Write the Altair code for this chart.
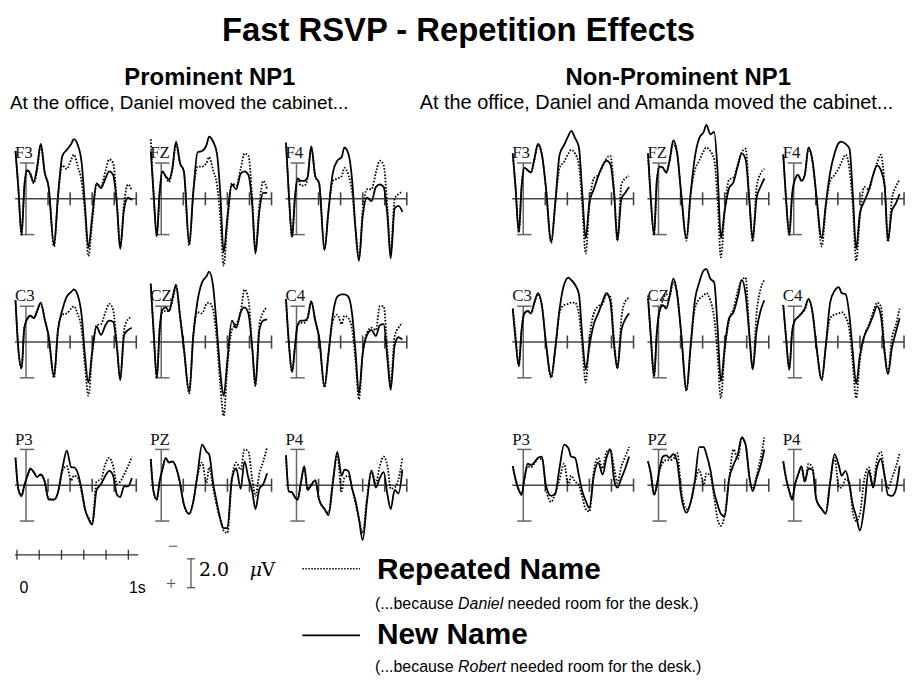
import altair as alt
import pandas as pd

# ---------------- data (µV, negative plotted up) ----------------
T = [-95, -70, -40, -15, 10, 40, 70, 100, 134, 170, 205, 254, 290, 330, 370, 410,
     434, 470, 505, 535, 566, 600, 640, 680, 720, 755, 790, 825, 854, 890, 925, 960]

L_F3_NEW = [-4.0, -1.0, 3.0, -1.0, -2.4, -2.1, -1.4, -2.6, -4.6, -2.2, -1.0, 3.9, -0.2, -3.6, -4.1, -4.6, -5.0, -4.5, -3.0, 0.6, 4.1, 1.5, -1.3, -0.9, -1.7, -2.3, -2.0, 0.6, 4.2, 0.8, -0.1, 0.1]
L_F3_REP = [-4.0, -1.0, 3.0, -1.0, -2.4, -2.0, -1.3, -2.4, -4.5, -2.2, -1.0, 4.0, -0.2, -2.8, -2.5, -3.3, -3.7, -2.7, -1.4, 1.2, 4.8, 2.0, -1.2, -1.1, -2.3, -3.3, -3.0, 0.4, 4.0, 0.3, -1.2, -0.7]
L_FZ_NEW = [-4.0, -0.5, 3.1, -0.5, -2.3, -1.9, -1.6, -2.5, -4.8, -3.0, -2.3, 3.8, -0.5, -3.9, -4.0, -4.5, -5.2, -4.8, -3.8, -0.5, 4.5, 1.5, -1.2, -0.8, -2.1, -2.3, -2.0, 0.5, 4.6, 1.0, -0.5, -0.5]
L_FZ_REP = [-5.0, -0.5, 3.1, -0.5, -2.3, -1.9, -1.4, -2.4, -4.6, -3.0, -2.3, 3.9, -0.5, -2.7, -2.7, -3.0, -3.5, -2.4, -1.2, 1.5, 5.6, 2.0, -1.3, -1.1, -2.5, -3.8, -3.6, 0.0, 4.3, 0.5, -1.5, -0.8]
L_F4_NEW = [-4.7, -0.5, 3.2, 0.0, -1.7, -1.5, -1.5, -1.8, -4.4, -1.9, -1.3, 4.3, 1.0, -2.2, -3.2, -3.5, -4.3, -3.8, -1.5, 2.5, 5.2, 1.5, -0.1, 0.2, -1.0, -1.2, -1.0, 1.5, 5.0, 0.8, 0.6, 1.1]
L_F4_REP = [-4.7, -0.5, 3.2, 0.0, -1.7, -1.1, -1.1, -1.7, -4.3, -1.9, -1.3, 4.2, 1.0, -1.5, -1.7, -1.9, -2.6, -2.0, -0.5, 2.5, 5.0, 1.0, -0.8, -0.8, -2.2, -3.2, -2.8, 0.8, 4.5, 0.0, -0.4, -0.6]
L_C3_NEW = [-3.5, 0.5, 2.2, -1.2, -1.9, -2.2, -2.0, -2.6, -3.3, -1.9, -0.5, 2.9, -1.0, -2.7, -3.8, -4.2, -4.4, -3.9, -2.2, 1.2, 3.4, 0.8, -1.3, -0.6, -1.4, -1.8, -1.7, 0.5, 3.2, -0.6, -1.0, -1.2]
L_C3_REP = [-3.5, 0.5, 2.2, -1.2, -1.9, -2.2, -2.0, -2.5, -3.2, -1.9, -0.5, 3.0, -1.0, -2.3, -2.4, -2.8, -3.0, -2.3, -1.0, 2.0, 4.5, 1.0, -1.4, -1.5, -2.5, -3.2, -2.7, 0.3, 3.0, -1.0, -1.9, -2.1]
L_CZ_NEW = [-4.8, -1.0, 3.0, -1.0, -2.7, -2.9, -2.6, -3.6, -4.8, -2.2, 0.5, 4.2, -0.5, -3.5, -5.0, -5.5, -5.9, -4.7, -1.0, 2.5, 4.5, 1.5, -1.8, -1.2, -2.5, -2.9, -2.4, 0.5, 3.6, -1.0, -1.8, -1.9]
L_CZ_REP = [-4.9, -1.0, 3.0, -1.0, -2.5, -2.6, -2.6, -3.4, -4.6, -2.2, 0.5, 4.3, -0.5, -2.5, -2.4, -3.2, -3.3, -2.7, 0.0, 3.5, 6.2, 2.0, -1.0, -1.5, -2.5, -4.4, -3.6, 0.5, 3.7, -1.5, -2.5, -2.9]
L_C4_NEW = [-3.6, 0.0, 2.5, 0.5, -1.4, -1.8, -1.8, -2.0, -3.4, -1.8, -0.4, 3.7, 1.0, -2.3, -3.8, -4.0, -4.0, -3.8, -2.3, 0.8, 4.3, 1.0, -0.6, -1.0, -0.5, -1.4, -1.5, 1.5, 4.0, 0.3, -0.4, -0.2]
L_C4_REP = [-3.6, 0.0, 2.5, 0.5, -1.4, -1.6, -1.6, -2.0, -3.4, -1.8, -0.4, 3.8, 1.0, -1.8, -2.3, -1.5, -2.2, -2.0, -1.0, 1.5, 4.8, 1.0, -0.8, -1.2, -1.0, -3.0, -3.0, 0.8, 3.5, -0.5, -1.2, -1.6]
L_P3_NEW = [-2.3, 0.3, 0.9, 0.0, -0.7, -1.4, -1.1, -0.7, -0.9, -0.3, 1.2, 1.2, 0.6, -1.4, -2.9, -1.5, -1.5, -1.0, 0.4, 2.0, 2.8, 3.3, 0.4, -0.1, -0.8, -1.2, -0.8, 0.8, 1.0, 0.1, 0.1, -0.6]
L_P3_REP = [-2.3, 0.3, 0.9, 0.0, -0.7, -1.3, -1.1, -0.7, -0.9, -0.3, 1.1, 1.2, 0.6, -1.2, -1.6, -0.4, -0.8, -0.6, 0.6, 2.0, 2.7, 3.2, -0.3, -0.5, -1.8, -2.3, -1.6, -0.1, -0.3, -0.9, -1.6, -2.4]
L_PZ_NEW = [-2.2, 0.5, 1.2, -0.3, -1.3, -2.3, -1.9, -2.0, -1.5, -0.2, 1.6, 2.4, 1.4, -1.0, -3.4, -2.8, -2.6, -0.2, 1.5, 2.8, 3.6, 3.6, -0.5, -1.4, 0.3, -2.0, -0.6, 0.5, 2.0, 0.3, -0.1, -1.0]
L_PZ_REP = [-2.2, 0.5, 1.2, -0.3, -1.3, -2.2, -1.9, -2.0, -1.5, -0.2, 1.6, 2.4, 1.4, -0.8, -1.9, -0.2, -1.5, 0.2, 1.8, 2.9, 3.8, 4.0, -0.5, -1.9, -1.3, -3.0, -2.8, -0.5, 0.9, -1.0, -2.0, -3.2]
L_P4_NEW = [-2.5, 0.5, 0.6, 1.0, 1.2, -0.2, -1.6, 0.4, 0.0, -0.4, 1.2, 2.0, 2.5, -0.2, -2.8, -0.8, -1.3, -1.2, 0.3, 1.3, 2.8, 4.6, 1.3, -1.2, 0.2, -0.6, -1.1, 0.8, 2.0, 0.4, 0.7, -1.3]
L_P4_REP = [-2.5, 0.5, 0.6, 1.0, 1.2, -0.2, -1.5, 0.3, -0.1, -0.4, 1.2, 2.0, 2.3, -0.4, -2.5, 0.5, -0.6, -0.8, 0.3, 1.5, 2.8, 4.0, 1.0, -1.2, -0.2, -1.6, -2.4, -1.6, 0.3, 0.2, -0.5, -2.3]

R_F3_NEW = [-3.8, -1.0, 2.8, -1.0, -2.6, -2.4, -2.2, -3.3, -4.6, -3.7, -1.0, 3.6, 0.4, -3.7, -4.5, -5.3, -5.7, -5.1, -4.3, -0.5, 3.3, 0.3, -0.8, -1.9, -2.8, -3.2, -2.9, -0.3, 3.5, 0.0, -0.5, -1.0]
R_F3_REP = [-3.8, -1.0, 2.8, -1.0, -2.6, -2.4, -2.2, -3.2, -4.5, -3.6, -1.0, 3.7, 0.4, -2.6, -3.1, -3.8, -4.1, -3.8, -2.8, 0.5, 4.6, 0.5, -1.7, -2.0, -2.7, -3.4, -3.6, -0.5, 3.5, -1.2, -1.7, -1.9]
R_FZ_NEW = [-3.8, 0.0, 3.0, -1.5, -2.7, -2.6, -2.2, -3.2, -4.9, -3.8, -0.5, 3.3, -0.3, -3.5, -5.1, -5.6, -6.2, -5.4, -5.6, -2.4, 3.3, 1.0, -0.9, -1.4, -2.8, -3.8, -3.3, 0.3, 3.4, -0.1, -1.0, -1.7]
R_FZ_REP = [-3.8, 0.0, 3.0, -1.5, -2.7, -2.6, -2.2, -3.1, -4.6, -3.7, -0.5, 3.5, -0.3, -2.4, -3.2, -4.0, -4.3, -4.0, -3.3, 0.0, 4.9, 1.0, -1.6, -1.8, -2.9, -3.9, -4.2, 0.3, 3.6, -1.0, -2.1, -2.5]
R_F4_NEW = [-3.7, 0.0, 3.0, -0.3, -1.6, -2.0, -1.5, -2.0, -4.3, -3.2, -0.3, 3.3, 0.5, -2.2, -3.8, -4.7, -4.8, -4.6, -4.2, -0.5, 4.2, 1.2, 0.2, -0.7, -2.0, -2.8, -2.4, -1.0, 3.5, 1.0, 0.4, -0.4]
R_F4_REP = [-3.7, 0.0, 3.0, -0.3, -1.6, -2.0, -1.5, -2.0, -4.2, -3.1, -0.3, 4.0, 0.8, -1.5, -2.0, -2.6, -3.1, -3.7, -2.5, 0.5, 5.2, 1.5, -1.0, -0.8, -2.0, -3.0, -3.7, -1.0, 3.6, 0.0, -1.0, -1.6]
R_C3_NEW = [-2.8, -0.2, 2.0, -1.0, -2.4, -2.6, -2.4, -3.3, -4.1, -3.0, 0.0, 2.9, 0.6, -2.8, -4.8, -5.4, -5.2, -4.8, -4.0, -0.5, 2.3, 0.3, -1.5, -2.4, -3.4, -4.1, -3.4, 0.4, 2.2, -1.0, -1.9, -2.4]
R_C3_REP = [-2.8, -0.7, 2.0, -1.0, -2.4, -2.6, -2.4, -3.2, -4.0, -3.0, 0.0, 3.0, 0.6, -2.5, -3.1, -3.2, -3.3, -3.3, -2.3, 0.3, 3.4, -0.3, -2.4, -3.0, -3.2, -4.0, -3.8, 0.0, 2.2, -2.0, -3.4, -3.7]
R_CZ_NEW = [-3.7, -0.5, 2.9, -0.8, -2.6, -3.1, -2.8, -3.8, -5.3, -4.0, -0.8, 4.0, 0.5, -3.5, -5.0, -6.0, -6.1, -5.3, -5.0, -1.3, 3.3, 0.5, -2.0, -2.5, -3.8, -5.2, -4.0, -0.5, 2.3, -1.0, -2.6, -3.5]
R_CZ_REP = [-3.9, -0.5, 2.9, -0.8, -2.6, -3.5, -4.0, -3.8, -5.0, -3.9, -0.8, 4.1, 0.5, -2.8, -3.6, -3.9, -4.1, -3.5, -2.0, 1.0, 4.7, 0.8, -1.8, -2.8, -4.3, -5.2, -5.4, -0.5, 2.2, -2.5, -4.4, -5.2]
R_C4_NEW = [-3.1, -0.4, 2.3, -0.8, -1.8, -2.1, -2.4, -2.8, -3.6, -2.5, 0.3, 3.1, 0.4, -3.3, -4.3, -4.6, -4.1, -4.0, -2.2, 0.8, 3.5, 1.1, -0.5, -1.3, -2.2, -3.0, -2.2, 1.0, 2.7, 0.5, -0.8, -2.0]
R_C4_REP = [-3.1, -0.4, 2.3, -0.8, -1.8, -2.1, -2.4, -2.7, -3.6, -2.5, 0.3, 3.2, 0.4, -2.0, -2.3, -2.4, -2.5, -2.1, -1.0, 1.8, 4.7, 1.5, -0.5, -1.4, -2.5, -3.3, -3.0, 0.8, 2.6, -0.3, -1.4, -2.8]
R_P3_NEW = [-1.6, -0.5, 0.4, 0.8, -0.5, -1.8, -1.7, -1.9, -2.3, -2.4, 0.0, 0.9, 0.7, -1.5, -3.4, -3.1, -2.4, -2.3, -0.8, 0.5, 1.3, 1.9, -0.8, -1.9, -0.9, -2.3, -3.0, -0.4, 0.2, -0.6, -1.4, -2.4]
R_P3_REP = [-1.6, -0.5, 0.4, 0.8, -0.5, -1.6, -1.5, -1.8, -2.2, -2.2, 0.2, 1.4, 0.7, -0.5, -1.8, 0.0, -0.8, -0.3, 0.0, 1.0, 2.0, 2.2, -1.2, -2.3, -1.4, -2.8, -3.0, -1.4, -0.2, -1.6, -2.4, -3.2]
R_PZ_NEW = [-2.0, -1.0, 0.8, 0.0, -1.4, -2.4, -2.5, -2.3, -2.6, -1.9, 0.8, 2.3, 1.5, -0.4, -3.2, -3.2, -2.6, -1.3, 0.6, 1.6, 2.4, 2.6, -0.5, -1.7, -2.6, -4.0, -3.4, -0.7, 0.5, -0.6, -1.6, -3.0]
R_PZ_REP = [-2.0, -1.0, 0.8, 0.0, -1.2, -1.9, -2.1, -2.1, -2.2, -2.7, 0.3, 2.0, 1.5, -0.2, -1.3, 0.0, -1.0, -0.8, 1.0, 2.8, 3.4, 2.5, -0.5, -3.0, -2.2, -4.0, -3.4, -0.5, 0.3, -0.8, -2.2, -4.0]
R_P4_NEW = [-2.0, -0.6, 0.5, 1.2, 0.0, -0.9, -1.6, -0.3, -1.4, -1.3, 1.2, 2.0, 2.4, -0.2, -2.6, -1.6, -0.8, -1.2, 0.0, 1.6, 2.6, 3.8, 1.8, -1.2, 0.2, -1.5, -2.2, -0.7, 0.8, 0.9, 0.4, -1.6]
R_P4_REP = [-2.0, -0.6, 0.5, 1.2, 0.0, -0.9, -1.5, -0.3, -1.8, -1.5, 1.2, 2.0, 2.3, -0.3, -2.3, 0.2, 0.2, -0.5, -0.2, 2.2, 3.0, 2.4, -0.5, -1.5, 0.0, -2.2, -2.8, -0.8, 0.3, -0.6, -1.5, -2.7]

ELECTRODES = [["F3", "FZ", "F4"], ["C3", "CZ", "C4"], ["P3", "PZ", "P4"]]
GROUP_DATA = {
    "L": {"F3": (L_F3_NEW, L_F3_REP), "FZ": (L_FZ_NEW, L_FZ_REP), "F4": (L_F4_NEW, L_F4_REP),
          "C3": (L_C3_NEW, L_C3_REP), "CZ": (L_CZ_NEW, L_CZ_REP), "C4": (L_C4_NEW, L_C4_REP),
          "P3": (L_P3_NEW, L_P3_REP), "PZ": (L_PZ_NEW, L_PZ_REP), "P4": (L_P4_NEW, L_P4_REP)},
    "R": {"F3": (R_F3_NEW, R_F3_REP), "FZ": (R_FZ_NEW, R_FZ_REP), "F4": (R_F4_NEW, R_F4_REP),
          "C3": (R_C3_NEW, R_C3_REP), "CZ": (R_CZ_NEW, R_CZ_REP), "C4": (R_C4_NEW, R_C4_REP),
          "P3": (R_P3_NEW, R_P3_REP), "PZ": (R_PZ_NEW, R_PZ_REP), "P4": (R_P4_NEW, R_P4_REP)},
}

TICKS_MS = [200, 400, 600, 800, 1000]
TICK_HALF = 0.55
CAL_UV = 3.0

TITLE = "Fast RSVP - Repetition Effects"
HEAD_L = "Prominent NP1"
HEAD_R = "Non-Prominent NP1"
SENT_L = "At the office, Daniel moved the cabinet..."
SENT_R = "At the office, Daniel and Amanda moved the cabinet..."

# ---------------- styling / layout ----------------
SANS = "Liberation Sans"
SERIF = "Liberation Serif"
MATH = "DejaVu Serif"
PANEL_W = 122
COL_GAP = 14
GROUP_GAP = 106
ROW_H = [144, 144, 120]
ROW_DOM = [[-6, 6], [-6, 6], [-6, 4]]
AXIS_COLOR = "#444444"
CAL_COLOR = "#666666"
ONE = pd.DataFrame({"k": [0]})


def xenc(field):
    return alt.X(f"{field}:Q", scale=alt.Scale(domain=[-100, 1000], nice=False, zero=False), axis=None)


def yenc(field, dom):
    return alt.Y(f"{field}:Q", scale=alt.Scale(domain=dom, reverse=True, nice=False, zero=False), axis=None)


def vtext(x, y, s, **style):
    style.setdefault("baseline", "alphabetic")
    style.setdefault("color", "black")
    return alt.Chart(ONE).mark_text(text=s, **style).encode(x=alt.value(x), y=alt.value(y))


def vrule(x, x2, y, y2, **style):
    return alt.Chart(ONE).mark_rule(**style).encode(
        x=alt.value(x), x2=alt.value(x2), y=alt.value(y), y2=alt.value(y2))


def panel_layers(name, new, rep, dom):
    n = len(T)
    wave = pd.DataFrame({"t": T + T, "v": list(new) + list(rep),
                         "cond": ["New"] * n + ["Repeated"] * n})
    base = alt.Chart(wave)
    dotted = base.transform_filter(alt.datum.cond == "Repeated").mark_line(
        color="black", strokeWidth=1.8, strokeDash=[1.6, 1.6], interpolate="monotone"
    ).encode(x=xenc("t"), y=yenc("v", dom), order="t:Q")
    solid = base.transform_filter(alt.datum.cond == "New").mark_line(
        color="black", strokeWidth=1.8, interpolate="monotone"
    ).encode(x=xenc("t"), y=yenc("v", dom), order="t:Q")
    axis_line = alt.Chart(pd.DataFrame({"t0": [-100], "t1": [1000], "v": [0]})).mark_rule(
        color=AXIS_COLOR, strokeWidth=1.6).encode(x=xenc("t0"), x2="t1", y=yenc("v", dom))
    ticks = alt.Chart(pd.DataFrame({"t": TICKS_MS, "v0": [-TICK_HALF] * len(TICKS_MS),
                                    "v1": [TICK_HALF] * len(TICKS_MS)})).mark_rule(
        color=AXIS_COLOR, strokeWidth=1.6).encode(x=xenc("t"), y=yenc("v0", dom), y2="v1")
    cal = alt.Chart(pd.DataFrame({"t": [0], "v0": [-CAL_UV], "v1": [CAL_UV]})).mark_rule(
        color=CAL_COLOR, strokeWidth=1.5).encode(x=xenc("t"), y=yenc("v0", dom), y2="v1")
    caps = alt.Chart(pd.DataFrame({"t0": [-55, -55], "t1": [75, 75], "v": [-CAL_UV, CAL_UV]})).mark_rule(
        color=CAL_COLOR, strokeWidth=1.5).encode(x=xenc("t0"), x2="t1", y=yenc("v", dom))
    label = alt.Chart(pd.DataFrame({"t": [-100], "v": [-3.4], "lab": [name]})).mark_text(
        align="left", baseline="alphabetic", font=SERIF, fontSize=17, color="#111"
    ).encode(x=xenc("t"), y=yenc("v", dom), text="lab:N")
    return [cal, caps, axis_line, ticks, dotted, solid, label]


# header texts, placed relative to the first panel's origin (above it)
def header_layers():
    return [
        vtext(446, -87, TITLE, font=SANS, fontSize=33, fontWeight="bold", align="center"),
        vtext(196, -42, HEAD_L, font=SANS, fontSize=24, fontWeight="bold", align="center"),
        vtext(667, -42, HEAD_R, font=SANS, fontSize=24, fontWeight="bold", align="center"),
        vtext(-5, -18, SENT_L, font=SANS, fontSize=19, align="left"),
        vtext(407, -18, SENT_R, font=SANS, fontSize=20, align="left"),
    ]


# legend, placed relative to the bottom-left panel's origin (below it)
def legend_layers():
    oy = 120
    out = [vrule(0, 124, oy + 22, oy + 22, color="#333", strokeWidth=1.3)]
    for k in range(6):
        x = 2 + 22.4 * k
        out.append(vrule(x, x, oy + 17, oy + 27, color="#333", strokeWidth=1.3))
    out += [
        vtext(9, oy + 60, "0", font=SANS, fontSize=16, align="center"),
        vtext(123, oy + 60, "1s", font=SANS, fontSize=16, align="center"),
        vtext(159, oy + 19, "−", font=SERIF, fontSize=18, align="center", color="#555"),
        vtext(157, oy + 57, "+", font=SERIF, fontSize=18, align="center", color="#555"),
        vrule(177, 177, oy + 26, oy + 55, color="#555", strokeWidth=1.3),
        vrule(173, 181, oy + 26, oy + 26, color="#555", strokeWidth=1.3),
        vrule(173, 181, oy + 55, oy + 55, color="#555", strokeWidth=1.3),
        vtext(185, oy + 43, "2.0", font=MATH, fontSize=19, align="left"),
        vtext(236, oy + 43, "μ", font=MATH, fontSize=19, fontStyle="italic", align="left"),
        vtext(248, oy + 43, "V", font=MATH, fontSize=19, align="left"),
        vrule(289, 347, oy + 36, oy + 36, color="black", strokeWidth=1.6, strokeDash=[1.5, 1.5]),
        vrule(289, 347, oy + 103, oy + 103, color="black", strokeWidth=1.6),
        vtext(364, oy + 46, "Repeated Name", font=SANS, fontSize=30, fontWeight="bold", align="left"),
        vtext(364, oy + 112, "New Name", font=SANS, fontSize=30, fontWeight="bold", align="left"),
        vtext(362, oy + 76, "(...because", font=SANS, fontSize=16, align="left"),
        vtext(362 + 83.6, oy + 76, "Daniel", font=SANS, fontSize=16, fontStyle="italic", align="left"),
        vtext(362 + 133.3, oy + 76, "needed room for the desk.)", font=SANS, fontSize=16, align="left"),
        vtext(362, oy + 140, "(...because", font=SANS, fontSize=16, align="left"),
        vtext(362 + 83.6, oy + 140, "Robert", font=SANS, fontSize=16, fontStyle="italic", align="left"),
        vtext(362 + 136.0, oy + 140, "needed room for the desk.)", font=SANS, fontSize=16, align="left"),
    ]
    return out


def spacer(h):
    return alt.Chart(ONE).mark_point(opacity=0).encode(
        x=alt.value(0), y=alt.value(0)).properties(width=GROUP_GAP - 2 * COL_GAP, height=h)


cells = []
for r, names in enumerate(ELECTRODES):
    for key in ["L", "R"]:
        for c, nm in enumerate(names):
            layers = panel_layers(nm, *GROUP_DATA[key][nm], ROW_DOM[r])
            if r == 0 and c == 0 and key == "L":
                layers += header_layers()
            if r == 2 and c == 0 and key == "L":
                layers += legend_layers()
            cells.append(alt.layer(*layers).properties(width=PANEL_W, height=ROW_H[r]))
        if key == "L":
            cells.append(spacer(ROW_H[r]))

chart = alt.concat(
    *cells, columns=7, spacing={"row": 0, "column": COL_GAP}, bounds="flush"
).configure_view(stroke=None).properties(
    background="white",
    padding={"left": 2, "top": 5, "right": 5, "bottom": 5},
)

chart.save("out.html", embed_options={"renderer": "svg", "actions": False})
